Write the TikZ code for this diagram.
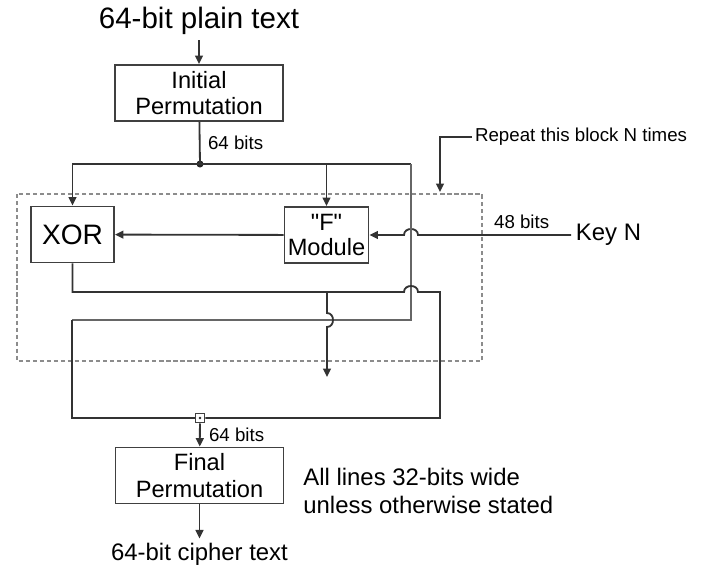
\documentclass[tikz,border=0pt]{standalone}
\usepackage{fontspec}
\setmainfont{Liberation Sans}
\newfontfamily\quotefont{Liberation Sans}[Ligatures=ResetAll]
\usetikzlibrary{positioning,arrows.meta}

\begin{document}
\begin{tikzpicture}[
    x=0.25mm, y=-0.25mm,
    box/.style={
        rectangle, draw=black!75, line width=1.3pt, align=center,
        minimum width=42mm, minimum height=14mm, inner sep=1pt,
        font=\fontsize{16.8}{19}\selectfont
    },
    smallbox/.style={box, minimum width=21mm},
    line/.style={draw=black!80, line width=1.3pt},
    thinline/.style={draw=black!60, line width=0.9pt},
    arrow/.style={line, -{Triangle[length=6pt,width=5.5pt]}},
    lbl/.style={font=\fontsize{13.3}{16}\selectfont, inner sep=2pt},
    big/.style={font=\fontsize{21}{25}\selectfont},
    mid/.style={font=\fontsize{17}{20}\selectfont, align=left},
    dot/.style={circle, fill=black!85, inner sep=0pt, minimum size=5pt},
    mergebox/.style={rectangle, draw=black!75, line width=0.8pt, inner sep=0pt, minimum size=7pt}
]
\useasboundingbox (0,0) rectangle (706,564);

% boxes
\node[box] (ip) at (199,93) {Initial\\Permutation};
\node[big, above=6mm of ip] (plain) {64-bit plain text};
\node[smallbox, minimum width=20.75mm, font=\fontsize{20}{24}\selectfont] (xor) at (72.5,234.5) {XOR};
\node[smallbox, font=\fontsize{16.8}{18}\selectfont] (fmod) at (326.5,235) {{\quotefont"F"}\\Module};
\node[box] (final) at (199.5,475.5) {Final\\Permutation};
\node[mid, below=8.5mm of final] (cipher) {64-bit cipher text};
\node[mid, right=3.5mm of final, yshift=-3.9mm] (note) {All lines 32-bits wide\\unless otherwise stated};
\node[mid, anchor=west] (key) at (571,235) {Key N};

% labels
\node[lbl, anchor=west] (ipbits) at (205,143) {64 bits};
\node[lbl, anchor=west] (keybits) at (491,222) {48 bits};
\node[lbl, anchor=west] (outbits) at (206,435) {64 bits};
\node[lbl, anchor=west] (repeat) at (472,137) {Repeat this block N times};

% round block
\draw[black!45, line width=0.8pt, densely dashed] (17,194) rectangle (482,361);

\coordinate (split) at (200,164);
\node[dot] at (split) {};
\node[mergebox] (merge) at (200,418) {};
\node[dot, minimum size=2pt] at (merge) {};

\draw[arrow] (plain) -- (ip);
\draw[line] (ip) -- (split);
\draw[arrow] (split) -| (xor.north);
\draw[arrow] (split) -| (fmod.north);
\draw[arrow] (fmod) -- (xor);
\draw[arrow] (key.west) -- (418,235) .. controls (418,227) and (404,227) .. (404,235) -- (fmod.east);

% right half carried round
\draw[line] (fmod.north |- split) -- (411,164);
\draw[thinline] (411,164) -- (411,320) -- (72,320);
\draw[line] (72,320) |- (merge.west);

% xor output
\draw[line] (xor.south) |- (404,292) .. controls (404,284) and (418,284) .. (418,292) -- (440,292) |- (merge.east);
\draw[arrow] (327,292) -- (327,313) .. controls (335,313) and (335,327) .. (327,327) -- (327,377);

\draw[arrow] (merge) -- (final);
\draw[arrow] (final) -- (cipher);
\draw[arrow] (repeat.west) -| (440,192);
\end{tikzpicture}
\end{document}
